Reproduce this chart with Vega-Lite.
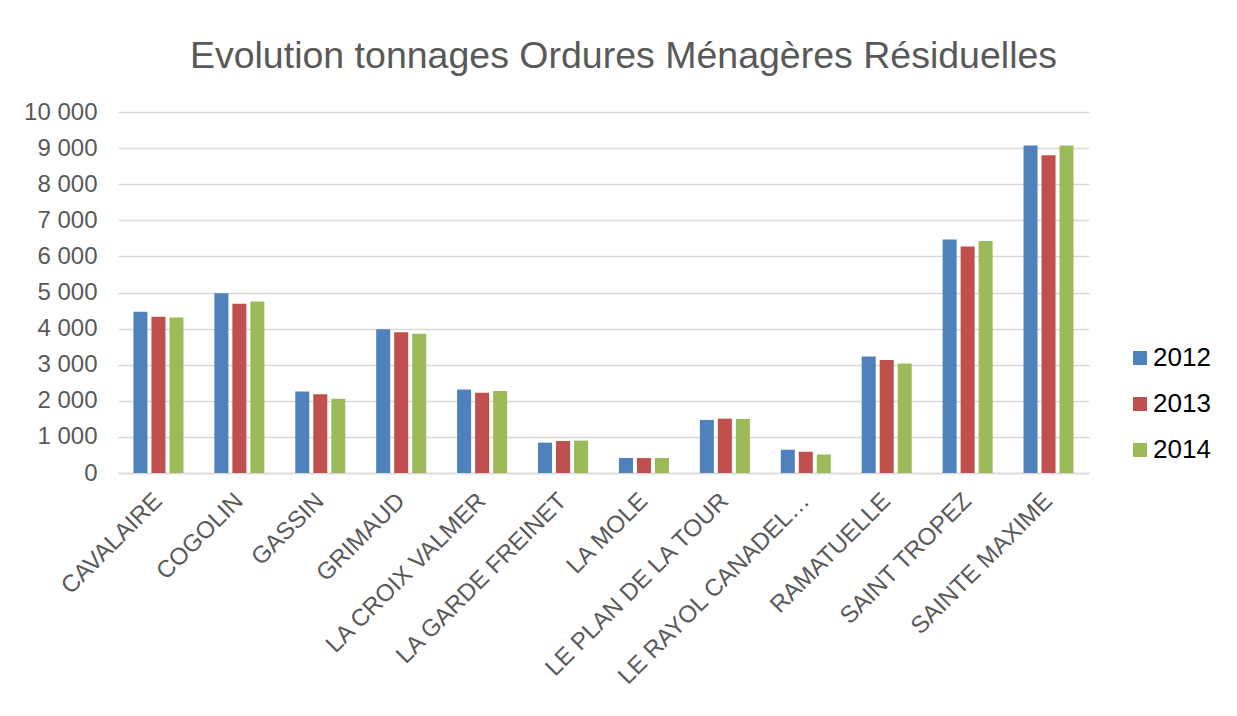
{
  "$schema": "https://vega.github.io/schema/vega-lite/v6.json",
  "width": 971,
  "height": 361,
  "autosize": {"type": "none"},
  "padding": {"left": 118, "top": 112, "right": 148, "bottom": 243},
  "background": "white",
  "config": {
    "font": "Liberation Sans",
    "view": {"stroke": null},
    "locale": {"number": {"decimal": ",", "thousands": " ", "grouping": [3], "currency": ["", " €"]}}
  },
  "title": {
    "text": "Evolution tonnages Ordures Ménagères Résiduelles",
    "font": "Liberation Sans",
    "fontSize": 37.5,
    "fontWeight": "normal",
    "color": "#595959",
    "anchor": "middle",
    "frame": "group",
    "baseline": "alphabetic",
    "offset": -5,
    "dx": 20
  },
  "data": {
    "values": [
      {"commune": "CAVALAIRE", "annee": "2012", "tonnage": 4470},
      {"commune": "CAVALAIRE", "annee": "2013", "tonnage": 4330},
      {"commune": "CAVALAIRE", "annee": "2014", "tonnage": 4310},
      {"commune": "COGOLIN", "annee": "2012", "tonnage": 4980},
      {"commune": "COGOLIN", "annee": "2013", "tonnage": 4690},
      {"commune": "COGOLIN", "annee": "2014", "tonnage": 4750},
      {"commune": "GASSIN", "annee": "2012", "tonnage": 2255},
      {"commune": "GASSIN", "annee": "2013", "tonnage": 2180},
      {"commune": "GASSIN", "annee": "2014", "tonnage": 2060},
      {"commune": "GRIMAUD", "annee": "2012", "tonnage": 3980},
      {"commune": "GRIMAUD", "annee": "2013", "tonnage": 3900},
      {"commune": "GRIMAUD", "annee": "2014", "tonnage": 3860},
      {"commune": "LA CROIX VALMER", "annee": "2012", "tonnage": 2310},
      {"commune": "LA CROIX VALMER", "annee": "2013", "tonnage": 2220},
      {"commune": "LA CROIX VALMER", "annee": "2014", "tonnage": 2270},
      {"commune": "LA GARDE FREINET", "annee": "2012", "tonnage": 840},
      {"commune": "LA GARDE FREINET", "annee": "2013", "tonnage": 887},
      {"commune": "LA GARDE FREINET", "annee": "2014", "tonnage": 897},
      {"commune": "LA MOLE", "annee": "2012", "tonnage": 416},
      {"commune": "LA MOLE", "annee": "2013", "tonnage": 414},
      {"commune": "LA MOLE", "annee": "2014", "tonnage": 415},
      {"commune": "LE PLAN DE LA TOUR", "annee": "2012", "tonnage": 1470},
      {"commune": "LE PLAN DE LA TOUR", "annee": "2013", "tonnage": 1506},
      {"commune": "LE PLAN DE LA TOUR", "annee": "2014", "tonnage": 1497},
      {"commune": "LE RAYOL CANADEL SUR MER", "annee": "2012", "tonnage": 647},
      {"commune": "LE RAYOL CANADEL SUR MER", "annee": "2013", "tonnage": 590},
      {"commune": "LE RAYOL CANADEL SUR MER", "annee": "2014", "tonnage": 510},
      {"commune": "RAMATUELLE", "annee": "2012", "tonnage": 3225},
      {"commune": "RAMATUELLE", "annee": "2013", "tonnage": 3130},
      {"commune": "RAMATUELLE", "annee": "2014", "tonnage": 3030},
      {"commune": "SAINT TROPEZ", "annee": "2012", "tonnage": 6470},
      {"commune": "SAINT TROPEZ", "annee": "2013", "tonnage": 6275},
      {"commune": "SAINT TROPEZ", "annee": "2014", "tonnage": 6430},
      {"commune": "SAINTE MAXIME", "annee": "2012", "tonnage": 9075},
      {"commune": "SAINTE MAXIME", "annee": "2013", "tonnage": 8800},
      {"commune": "SAINTE MAXIME", "annee": "2014", "tonnage": 9075}
    ]
  },
  "mark": {"type": "bar"},
  "encoding": {
    "x": {
      "field": "commune",
      "type": "nominal",
      "sort": null,
      "scale": {"paddingInner": 0, "paddingOuter": 0},
      "axis": {
        "title": null,
        "labelAngle": -45,
        "labelAlign": "right",
        "labelBaseline": "middle",
        "labelFontSize": 24,
        "labelColor": "#595959",
        "labelPadding": 24,
        "labelLimit": 400,
        "labelExpr": "datum.label == 'LE RAYOL CANADEL SUR MER' ? 'LE RAYOL CANADEL…' : datum.label",
        "ticks": false,
        "domainColor": "#d9d9d9",
        "domainWidth": 1.5,
        "grid": false
      }
    },
    "xOffset": {
      "field": "annee",
      "type": "nominal",
      "scale": {"paddingInner": 0.222, "paddingOuter": 0.858}
    },
    "y": {
      "field": "tonnage",
      "type": "quantitative",
      "scale": {"domain": [0, 10000], "nice": false},
      "axis": {
        "title": null,
        "values": [0, 1000, 2000, 3000, 4000, 5000, 6000, 7000, 8000, 9000, 10000],
        "format": ",d",
        "labelFontSize": 24,
        "labelColor": "#595959",
        "labelPadding": 21,
        "ticks": false,
        "domain": false,
        "gridColor": "#d9d9d9",
        "gridWidth": 1.5
      }
    },
    "color": {
      "field": "annee",
      "type": "nominal",
      "scale": {"domain": ["2012", "2013", "2014"], "range": ["#4F81BD", "#C0504D", "#9BBB59"]},
      "legend": {
        "title": null,
        "orient": "none",
        "legendX": 1009,
        "legendY": 233,
        "symbolType": "square",
        "symbolSize": 196,
        "symbolStrokeWidth": 0,
        "labelFontSize": 26,
        "labelColor": "#000000",
        "labelOffset": 0,
        "rowPadding": 20,
        "padding": 0
      }
    }
  }
}
